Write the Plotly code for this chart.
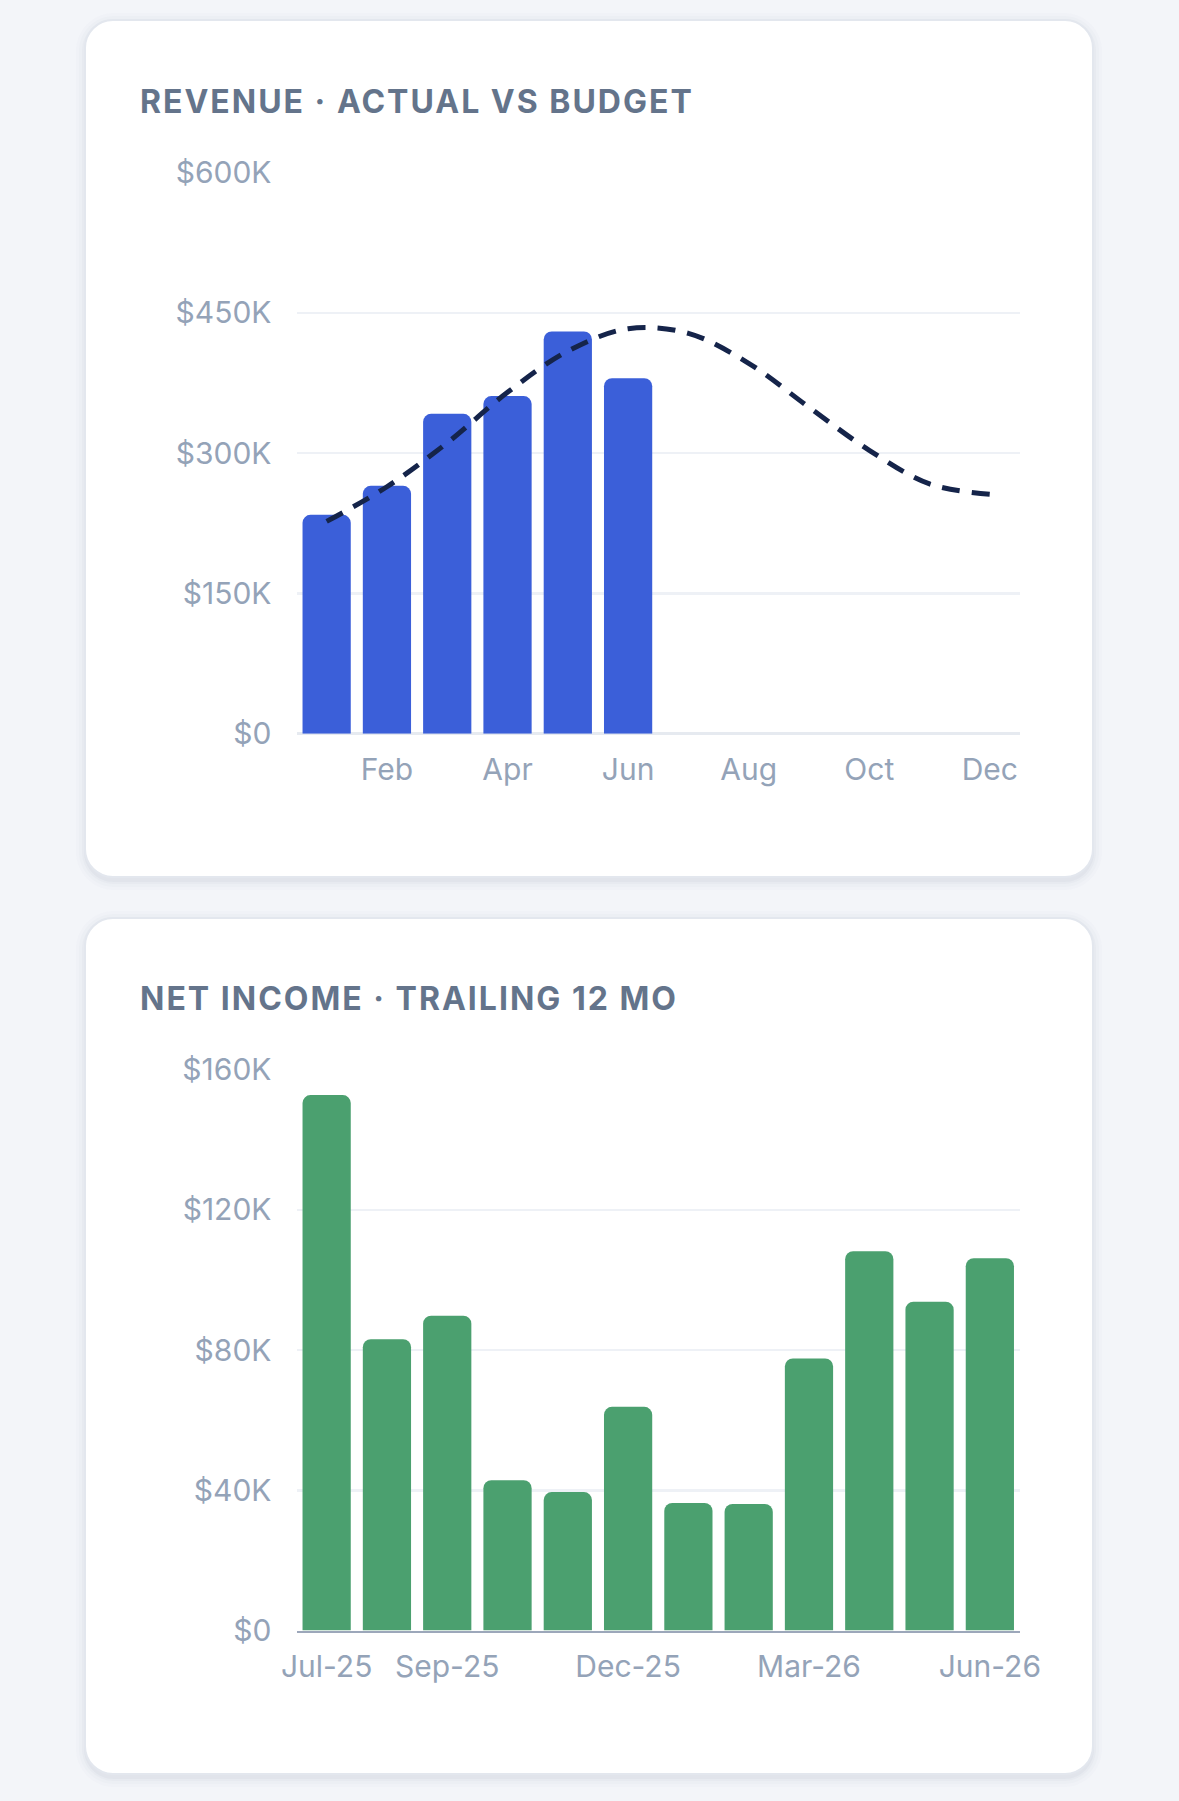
import plotly.graph_objects as go

# ---------------- data ----------------
months = ["Jan", "Feb", "Mar", "Apr", "May", "Jun", "Jul", "Aug", "Sep", "Oct", "Nov", "Dec"]
revenue_actual = [234000, 265000, 342000, 361000, 430000, 380000]          # Jan-Jun
revenue_budget = [227000, 264000, 311000, 365000, 409000, 433000,
                  428000, 396000, 349000, 303000, 267000, 256000]
rev_xticks = ["Feb", "Apr", "Jun", "Aug", "Oct", "Dec"]
rev_yticks = [0, 150000, 300000, 450000, 600000]
rev_ytext = ["$0", "$150K", "$300K", "$450K", "$600K"]

ni_months = ["Jul-25", "Aug-25", "Sep-25", "Oct-25", "Nov-25", "Dec-25",
             "Jan-26", "Feb-26", "Mar-26", "Apr-26", "May-26", "Jun-26"]
net_income = [152700, 83100, 89800, 42900, 39500, 63800,
              36400, 36100, 77600, 108200, 93800, 106200]
ni_xticks = ["Jul-25", "Sep-25", "Dec-25", "Mar-26", "Jun-26"]
ni_yticks = [0, 40000, 80000, 120000, 160000]
ni_ytext = ["$0", "$40K", "$80K", "$120K", "$160K"]

# ---------------- style ----------------
W, H = 1179, 1801
PAGE_BG = "#f3f5f9"
BLUE = "#3b5fd9"
GREEN = "#4ba06f"
NAVY = "#15244a"
TICK = "#94a3b8"
TITLE = "#64748b"
GRID = "#eef1f6"
FONT = "Inter"
LS = 2.0  # title letter spacing (px)


def px(x):
    return x / W


def py(y):
    return 1 - y / H


def rounded_rect(x0, y0, x1, y1, r):
    k = 0.5523 * r
    pts = [
        f"M {px(x0 + r)} {py(y0)}",
        f"L {px(x1 - r)} {py(y0)}",
        f"C {px(x1 - r + k)} {py(y0)} {px(x1)} {py(y0 + r - k)} {px(x1)} {py(y0 + r)}",
        f"L {px(x1)} {py(y1 - r)}",
        f"C {px(x1)} {py(y1 - r + k)} {px(x1 - r + k)} {py(y1)} {px(x1 - r)} {py(y1)}",
        f"L {px(x0 + r)} {py(y1)}",
        f"C {px(x0 + r - k)} {py(y1)} {px(x0)} {py(y1 - r + k)} {px(x0)} {py(y1 - r)}",
        f"L {px(x0)} {py(y0 + r)}",
        f"C {px(x0)} {py(y0 + r - k)} {px(x0 + r - k)} {py(y0)} {px(x0 + r)} {py(y0)}",
        "Z",
    ]
    return " ".join(pts)


cards = [(85, 20, 1093, 877), (85, 918, 1093, 1774)]
shapes = []
for (x0, y0, x1, y1) in cards:
    # soft shadow
    for d, a in [(10, 0.018), (7, 0.025), (4, 0.035), (2, 0.045)]:
        shapes.append(dict(type="path", xref="paper", yref="paper", layer="below",
                           path=rounded_rect(x0 - d + 1, y0 - d + 3, x1 + d - 1, y1 + d + 3, 28 + d),
                           fillcolor=f"rgba(100,116,139,{a})", line=dict(width=0)))
    shapes.append(dict(type="path", xref="paper", yref="paper", layer="below",
                       path=rounded_rect(x0, y0, x1, y1, 28),
                       fillcolor="#ffffff", line=dict(color="#e3e7ee", width=2)))

fig = go.Figure()

fig.add_trace(go.Bar(x=months[:len(revenue_actual)], y=revenue_actual, marker_color=BLUE,
                     marker_line_width=0, xaxis="x", yaxis="y", hoverinfo="skip"))
fig.add_trace(go.Scatter(x=months, y=revenue_budget, mode="lines",
                         line=dict(color=NAVY, width=5, dash="18px,12px", shape="spline"),
                         xaxis="x", yaxis="y", hoverinfo="skip"))
fig.add_trace(go.Bar(x=ni_months, y=net_income, marker_color=GREEN, marker_line_width=0,
                     xaxis="x2", yaxis="y2", hoverinfo="skip"))

xdom = [px(296.5), px(1020)]
tickfont = dict(family=FONT, size=30, color=TICK)

fig.update_layout(
    width=W, height=H, autosize=False,
    margin=dict(l=0, r=0, t=0, b=0, pad=0, autoexpand=False),
    paper_bgcolor=PAGE_BG, plot_bgcolor="rgba(0,0,0,0)",
    showlegend=False, bargap=0.2, barcornerradius=8,
    hovermode=False,
    shapes=shapes,
    xaxis=dict(domain=xdom, anchor="y", type="category", categoryorder="array",
               categoryarray=months, range=[-0.5, 11.5], tickmode="array",
               tickvals=rev_xticks, ticktext=rev_xticks, tickfont=tickfont,
               showgrid=False, ticks="", ticklabelstandoff=15, showline=False,
               zeroline=False, fixedrange=True, automargin=False),
    yaxis=dict(domain=[py(733.7), py(172.5)], anchor="x", range=[0, 600000],
               tickmode="array", tickvals=rev_yticks, ticktext=rev_ytext,
               tickfont=tickfont, showgrid=True, gridcolor=GRID, gridwidth=2.5,
               zeroline=True, zerolinecolor="#e6eaf0", zerolinewidth=2.5,
               ticks="", ticklabelstandoff=24, fixedrange=True, automargin=False),
    xaxis2=dict(domain=xdom, anchor="y2", type="category", categoryorder="array",
                categoryarray=ni_months, range=[-0.5, 11.5], tickmode="array",
                tickvals=ni_xticks, ticktext=ni_xticks, tickfont=tickfont,
                showgrid=False, ticks="", ticklabelstandoff=8,
                showline=True, linecolor="#9ca7ba", linewidth=2.5,
                zeroline=False, fixedrange=True, automargin=False),
    yaxis2=dict(domain=[py(1630.6), py(1069.5)], anchor="x2", range=[0, 160000],
                tickmode="array", tickvals=ni_yticks, ticktext=ni_ytext,
                tickfont=tickfont, showgrid=True, gridcolor=GRID, gridwidth=2.5,
                zeroline=False, ticks="", ticklabelstandoff=24, fixedrange=True,
                automargin=False),
    annotations=[
        dict(text="<b>REVENUE · ACTUAL VS BUDGET</b>", xref="paper", yref="paper",
             x=px(138.4 + 13 * LS), y=py(101.5), xanchor="left", yanchor="middle",
             showarrow=False, font=dict(family=FONT, size=32, color=TITLE)),
        dict(text="<b>NET INCOME · TRAILING 12 MO</b>", xref="paper", yref="paper",
             x=px(138.4 + 13.5 * LS), y=py(998.5), xanchor="left", yanchor="middle",
             showarrow=False, font=dict(family=FONT, size=32, color=TITLE)),
    ],
)

post = """
document.documentElement.style.margin='0';
document.body.style.margin='0';
document.body.style.padding='0';
document.body.style.overflow='hidden';
document.querySelectorAll('.annotation-text').forEach(function(t){t.style.letterSpacing='%spx';});
""" % LS

fig.write_html("out.html", config={"displayModeBar": False, "staticPlot": True},
               post_script=post)
